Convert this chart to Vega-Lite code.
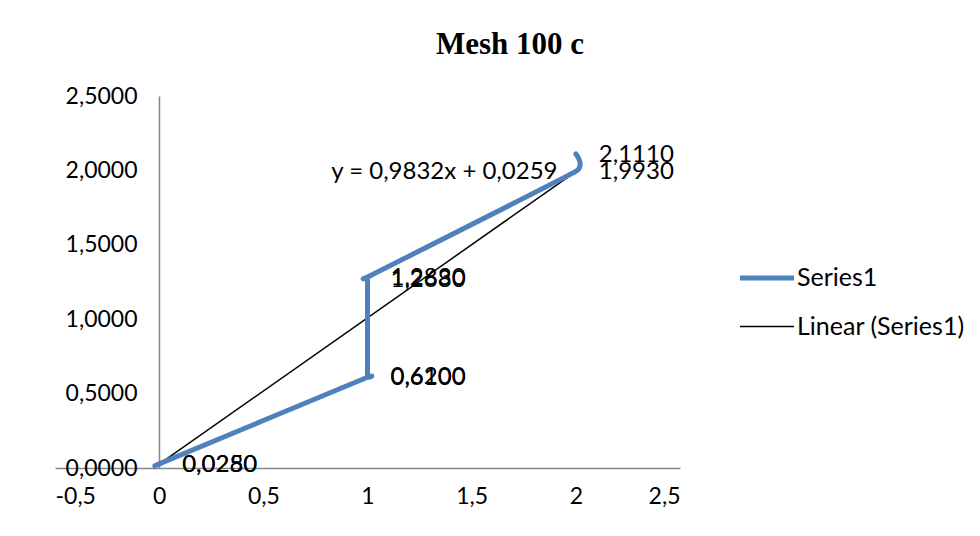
{
  "$schema": "https://vega.github.io/schema/vega-lite/v6.json",
  "width": 625,
  "height": 372,
  "autosize": {"type": "none"},
  "padding": {"left": 55, "top": 96, "right": 300, "bottom": 68},
  "background": "white",
  "config": {
    "locale": {"number": {"decimal": ",", "thousands": ".", "grouping": [3], "currency": ["", ""], "minus": "-"}},
    "view": {"stroke": null},
    "font": "Lato"
  },
  "title": {
    "text": "Mesh 100 c",
    "font": "Liberation Serif",
    "fontSize": 31,
    "fontWeight": "bold",
    "color": "black",
    "anchor": "middle",
    "frame": "bounds",
    "offset": 24
  },
  "datasets": {
    "series": [
      {"series": "Series1", "order": 1, "x": 0, "y": 0.0250},
      {"series": "Series1", "order": 2, "x": 0, "y": 0.0280},
      {"series": "Series1", "order": 3, "x": 1, "y": 0.6100},
      {"series": "Series1", "order": 4, "x": 1, "y": 0.6200},
      {"series": "Series1", "order": 5, "x": 1, "y": 1.2680},
      {"series": "Series1", "order": 6, "x": 1, "y": 1.2830},
      {"series": "Series1", "order": 7, "x": 2, "y": 1.9930},
      {"series": "Series1", "order": 8, "x": 2, "y": 2.1110}
    ],
    "trend": [
      {"series": "Linear (Series1)", "x": 0, "y": 0.0259},
      {"series": "Linear (Series1)", "x": 2, "y": 1.9923}
    ],
    "equation": [
      {"x": 0.826, "y": 1.99, "label": "y = 0,9832x + 0,0259"}
    ]
  },
  "layer": [
    {
      "data": {"name": "trend"},
      "mark": {"type": "line"},
      "encoding": {
        "x": {"field": "x", "type": "quantitative"},
        "y": {"field": "y", "type": "quantitative"},
        "color": {"field": "series", "type": "nominal"},
        "strokeWidth": {"field": "series", "type": "nominal"}
      }
    },
    {
      "data": {"name": "series"},
      "mark": {"type": "line", "interpolate": "cardinal", "tension": 0.72, "strokeCap": "round", "strokeJoin": "round"},
      "encoding": {
        "x": {
          "field": "x", "type": "quantitative",
          "scale": {"domain": [-0.5, 2.5], "nice": false, "zero": false},
          "axis": {
            "title": null, "values": [-0.5, 0, 0.5, 1, 1.5, 2, 2.5], "format": "~g",
            "grid": false, "ticks": false, "domainColor": "#868686", "domainWidth": 1.5,
            "labelFontSize": 23, "labelColor": "black", "labelPadding": 17, "labelFont": "Lato"
          }
        },
        "y": {
          "field": "y", "type": "quantitative",
          "scale": {"domain": [0, 2.5], "nice": false},
          "axis": {
            "title": null, "values": [0, 0.5, 1, 1.5, 2, 2.5], "format": ".4f",
            "grid": false, "ticks": false, "offset": -104, "domainColor": "#868686", "domainWidth": 1.5,
            "labelFontSize": 23, "labelColor": "black", "labelPadding": 22, "labelFont": "Lato"
          }
        },
        "order": {"field": "order", "type": "quantitative"},
        "color": {
          "field": "series", "type": "nominal",
          "scale": {"domain": ["Series1", "Linear (Series1)"], "range": ["#4f81bd", "black"]},
          "legend": {
            "title": null, "orient": "none", "legendX": 696, "legendY": 166,
            "symbolType": "M-2,0H2", "symbolSize": 729, "labelFontSize": 25, "labelColor": "black",
            "labelFont": "Lato", "rowPadding": 21, "labelOffset": 14, "labelLimit": 400
          }
        },
        "strokeWidth": {
          "field": "series", "type": "nominal",
          "scale": {"domain": ["Series1", "Linear (Series1)"], "range": [5, 1.5]},
          "legend": {
            "title": null, "orient": "none", "legendX": 696, "legendY": 166,
            "symbolType": "M-2,0H2", "symbolSize": 729, "labelFontSize": 25, "labelColor": "black",
            "labelFont": "Lato", "rowPadding": 21, "labelOffset": 14, "labelLimit": 400
          }
        }
      }
    },
    {
      "data": {"name": "series"},
      "mark": {"type": "text", "align": "left", "baseline": "middle", "dx": 23, "dy": 1, "fontSize": 24, "font": "Lato", "color": "black"},
      "encoding": {
        "x": {"field": "x", "type": "quantitative"},
        "y": {"field": "y", "type": "quantitative"},
        "text": {"field": "y", "type": "quantitative", "format": ".4f"}
      }
    },
    {
      "data": {"name": "equation"},
      "mark": {"type": "text", "align": "left", "baseline": "middle", "fontSize": 24, "font": "Lato", "color": "black"},
      "encoding": {
        "x": {"field": "x", "type": "quantitative"},
        "y": {"field": "y", "type": "quantitative"},
        "text": {"field": "label", "type": "nominal"}
      }
    }
  ]
}
